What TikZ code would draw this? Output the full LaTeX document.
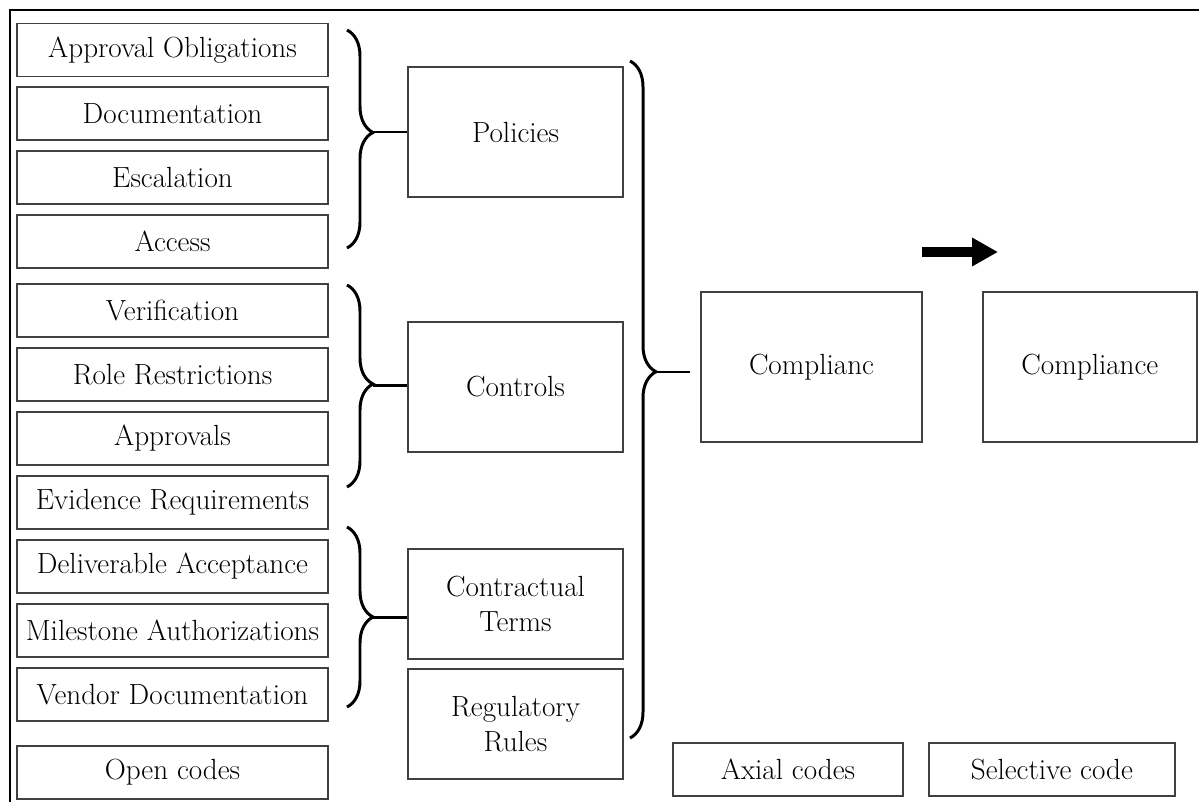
\documentclass[tikz,border=0pt]{standalone}
\usetikzlibrary{arrows.meta,positioning,decorations.pathreplacing,calc}

\begin{document}
\begin{tikzpicture}[x=0.02cm, y=-0.02cm, node distance=0.18cm,
  every node/.style={align=center, font=\fontsize{16.6}{20}\selectfont},
  codebox/.style={draw=black!75, line width=1.1pt, minimum width=6.22cm, minimum height=1.06cm, inner sep=0pt},
  axbox/.style={draw=black!75, line width=1.1pt, minimum width=4.3cm, inner sep=0pt},
  catbox/.style={draw=black!75, line width=1.1pt, minimum height=3cm, inner sep=0pt},
  grpbrace/.style={decorate, decoration={brace, amplitude=0.52cm, aspect=#1}, line width=1.7pt},
  grpbrace/.default=0.5]
\useasboundingbox (0,0) rectangle (1199,801);
\draw[line width=1.4pt] (10,840) -- (10,10) -- (1230,10);

% open codes
\node[codebox] (ob1) at (172.5,50) {Approval Obligations};
\node[codebox,below=of ob1] (ob2) {Documentation};
\node[codebox,below=of ob2] (ob3) {Escalation};
\node[codebox,below=of ob3] (ob4) {Access};
\node[codebox,below=0.28cm of ob4] (ob5) {Verification};
\node[codebox,below=of ob5] (ob6) {Role Restrictions};
\node[codebox,below=of ob6] (ob7) {Approvals};
\node[codebox,below=of ob7] (ob8) {Evidence Requirements};
\node[codebox,below=of ob8] (ob9) {Deliverable Acceptance};
\node[codebox,below=of ob9] (ob10) {Milestone Authorizations};
\node[codebox,below=of ob10] (ob11) {Vendor Documentation};
\node[codebox,below=0.47cm of ob11] (openlbl) {Open codes};

% axial codes
\node[axbox,minimum height=2.6cm] (pol) at (515.5,132) {Policies};
\node[axbox,minimum height=2.6cm] (ctl) at (515.5,387) {Controls};
\node[axbox,minimum height=2.2cm] (con) at (515.5,604) {Contractual\\Terms};
\node[axbox,minimum height=2.2cm,below=0.16cm of con] (reg) {Regulatory\\Rules};

% selective codes
\node[catbox,minimum width=4.42cm] (cmp) at (811.5,367) {Complianc};
\node[catbox,minimum width=4.28cm,right=1.18cm of cmp] (cmp2) {Compliance};
\node[axbox,minimum width=4.6cm,minimum height=1.06cm] (axlbl) at (788,769.5) {Axial codes};
\node[axbox,minimum width=4.92cm,minimum height=1.06cm,right=0.48cm of axlbl] (sellbl) {Selective code};

% braces
\coordinate (b1t) at (347,30); \coordinate (b1b) at (347,248); \coordinate (b1tip) at (373,132);
\coordinate (b2t) at (347,285); \coordinate (b2b) at (347,487); \coordinate (b2tip) at (373,385);
\coordinate (b3t) at (347,527); \coordinate (b3b) at (347,707); \coordinate (b3tip) at (373,617);
\coordinate (b4t) at (630,61); \coordinate (b4b) at (630,738); \coordinate (b4tip) at (656,372);
\draw[grpbrace=0.47] (b1t) -- (b1b);
\draw[grpbrace=0.49] (b2t) -- (b2b);
\draw[grpbrace] (b3t) -- (b3b);
\draw[grpbrace=0.459] (b4t) -- (b4b);
\draw[line width=1.7pt] (b1tip) -- (b1tip -| pol.west);
\draw[line width=1.7pt] (b2tip) -- (b2tip -| ctl.west);
\draw[line width=1.7pt] (b3tip) -- (b3tip -| con.west);
\draw[line width=1.7pt, shorten >=0.2cm] (b4tip) -- (b4tip -| cmp.west);

% arrow
\coordinate (arrs) at (922,252); \coordinate (arre) at (998,252);
\draw[-{Triangle[length=0.52cm,width=0.54cm]}, line width=0.2cm] (arrs) -- (arre);
\end{tikzpicture}
\end{document}
